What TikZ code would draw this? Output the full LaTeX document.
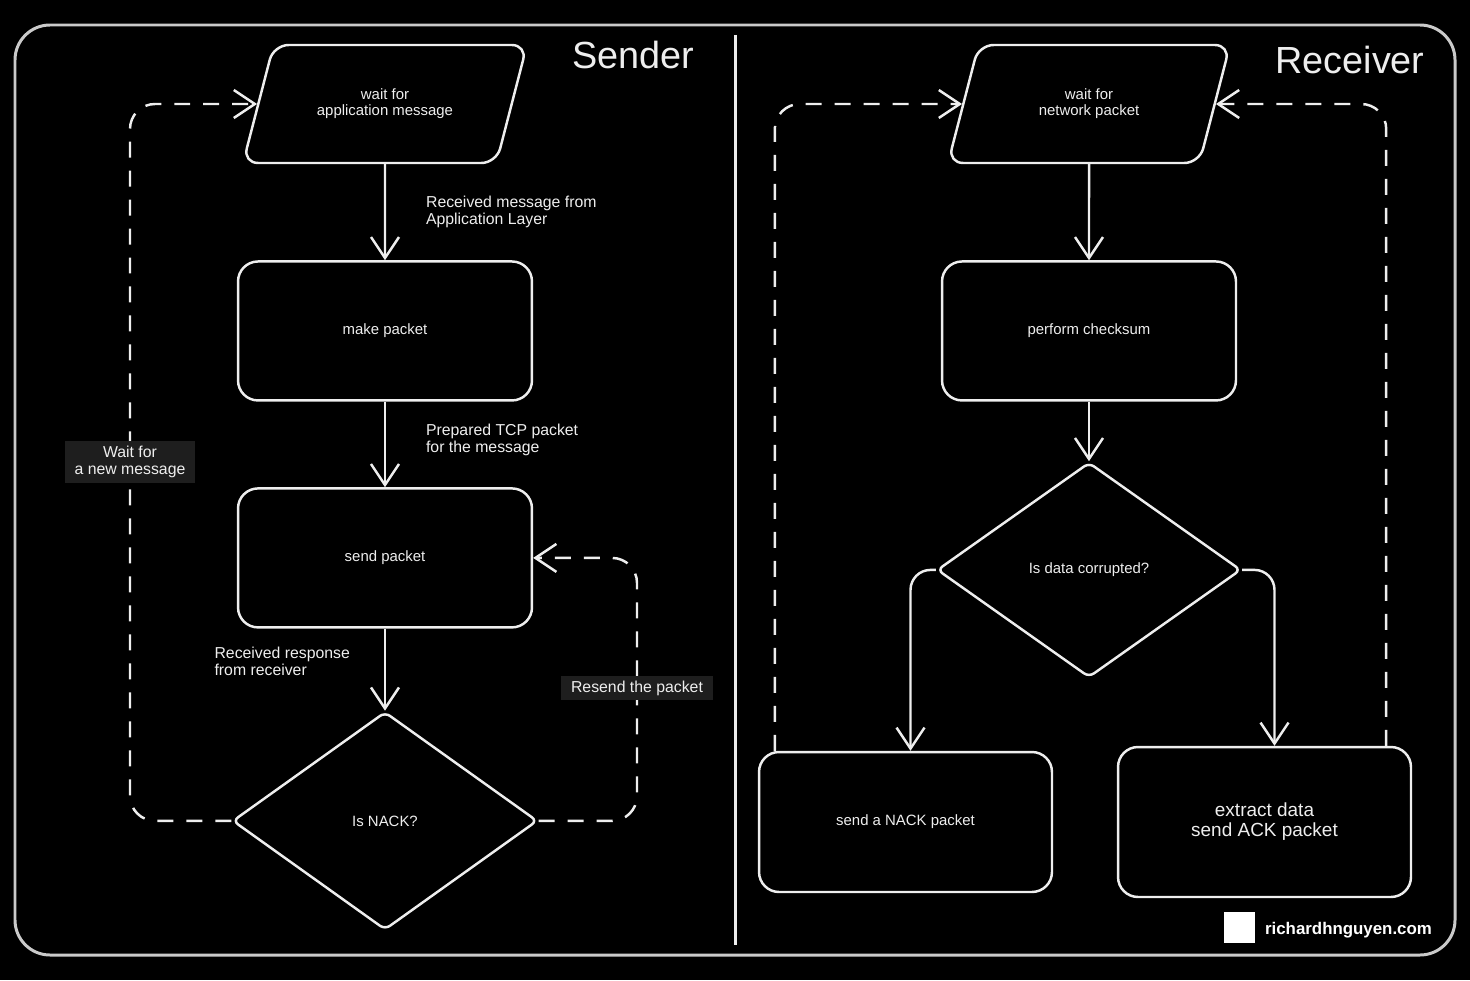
\documentclass[tikz,border=0pt]{standalone}
\usepackage{fontspec}
\setmainfont{Liberation Sans}
\usetikzlibrary{positioning,shapes.geometric,arrows.meta}
\definecolor{chalk}{HTML}{EEEEEE}
\definecolor{tagbg}{HTML}{1E1E1E}

\begin{document}
\begin{tikzpicture}[
                        x=0.02cm, y=-0.02cm,
                        node distance=4.54cm,
                        >={Straight Barb[length=0.42cm,width=0.56cm]},
                        every node/.style={text=chalk},
                        block/.style={rectangle, draw=chalk, line width=1.4pt, rounded corners=0.4cm, minimum width=5.88cm, minimum height=2.78cm, align=center, font=\fontsize{8.5}{9.5}\selectfont},
                        io/.style={trapezium, trapezium left angle=75, trapezium right angle=105, trapezium stretches body=true, draw=chalk, line width=1.4pt, rounded corners=0.3cm, inner ysep=0.84cm, minimum width=5.68cm, minimum height=2.36cm, align=center, font=\fontsize{8.5}{9.2}\selectfont},
                        decision/.style={diamond, draw=chalk, line width=1.4pt, rounded corners=0.12cm, minimum width=6.1cm, minimum height=4.36cm, align=center, font=\fontsize{8.5}{9.5}\selectfont},
                        flow/.style={->, draw=chalk, line width=1.4pt, rounded corners=0.4cm},
                        back/.style={flow, dash pattern=on 0.32cm off 0.26cm, rounded corners=0.5cm},
                        lbl/.style={align=left, font=\fontsize{9}{9.6}\selectfont},
                        tag/.style={fill=tagbg, sharp corners, inner xsep=0.2cm, inner ysep=0.1cm, align=center, font=\fontsize{9}{9.6}\selectfont},
                        title/.style={font=\fontsize{21.5}{24}\selectfont}
                    ]
                    \fill[black] (0,0) rectangle (1470,980);
                    \draw[chalk!85!black, line width=1.7pt, rounded corners=0.7cm] (15,25) rectangle (1455,955);
                    \draw[chalk, line width=1.7pt] (735,35) -- (735,945);

                    % Titles
                    \node[title] (sTitle) at (633,55) {Sender};
                    \node[title] (rTitle) at (1350,60) {Receiver};

                    % Sender blocks
                    \node [io] (sWait) at (385,104) {wait for\\application message};
                    \node [block, below of=sWait] (sMake) {make packet};
                    \node [block, below of=sMake] (sSend) {send packet};
                    \node [decision, below of=sSend, node distance=5.26cm] (sNack) {Is NACK?};
                    \coordinate (sLoopL) at (130,462);
                    \coordinate (sLoopR) at (637,688);

                    % Receiver blocks
                    \node [io, minimum width=5.64cm] (rWait) at (1089,104) {wait for\\network packet};
                    \node [block, below of=rWait] (rCheck) {perform checksum};
                    \node [decision, below of=rCheck, node distance=4.78cm, minimum width=6.08cm, minimum height=4.3cm] (rCorr) {Is data corrupted?};
                    \node [block, minimum height=2.8cm, minimum width=5.86cm] (rNack) at (905.5,822) {send a NACK packet};
                    \node [block, minimum height=3cm, minimum width=5.86cm, font=\fontsize{10.8}{11.4}\selectfont] (rAck) at (1264.5,822) {extract data\\send ACK packet};

                    % Sender connections
                    \draw [flow] (sWait) --node[lbl, right=0.68cm]{Received message from\\Application Layer} (sMake);
                    \draw [flow] (sMake) --node[lbl, right=0.68cm, pos=0.45]{Prepared TCP packet\\for the message} (sSend);
                    \draw [flow] (sSend) --node[lbl, left=0.56cm, pos=0.4]{Received response\\from receiver} (sNack);
                    \draw [back] (sNack.west) -| (sLoopL) node[tag] (sWaitTag) {Wait for\\a new message} |- (sWait.west);
                    \draw [back] (sNack.east) -| (sLoopR) node[tag] (sResendTag) {Resend the packet} |- (sSend.east);

                    % Receiver connections
                    \draw [flow] (rWait) -- (rCheck);
                    \draw [flow] (rCheck) -- (rCorr);
                    \draw [flow] (rCorr.west) -| ([xshift=0.1cm]rNack.north);
                    \draw [flow] (rCorr.east) -| ([xshift=0.2cm]rAck.north);
                    \draw [back] ([xshift=0.34cm]rNack.north west) |- (rWait.west);
                    \draw [back] ([xshift=-0.52cm]rAck.north east) |- (rWait.east);

                    % Logo
                    \node [fill=white, minimum size=0.62cm, inner sep=0pt] (logoMark) at (1239,927.5) {};
                    \node [right=0.08cm of logoMark, yshift=-0.06cm, font=\bfseries\fontsize{9.6}{10}\selectfont, text=white] (logoText) {richardhnguyen.com};
                \end{tikzpicture}
\end{document}
